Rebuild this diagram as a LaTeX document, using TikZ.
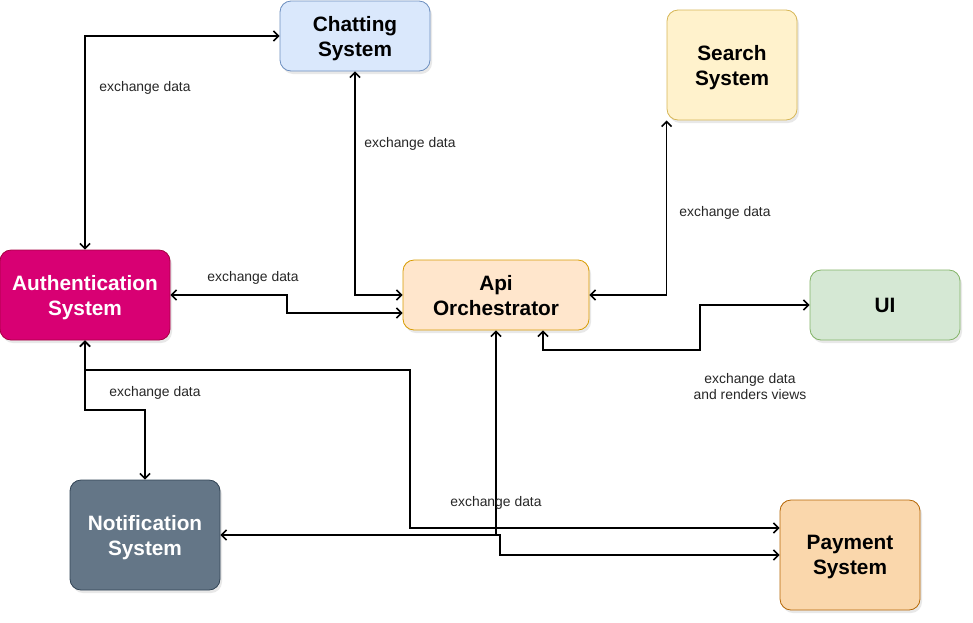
\documentclass[tikz,border=0pt]{standalone}
\usepackage{fontspec}
\setmainfont{Liberation Sans}
\usetikzlibrary{arrows.meta,positioning,shadows}

\definecolor{chatfill}{HTML}{DAE8FC}
\definecolor{chatline}{HTML}{6C8EBF}
\definecolor{searchfill}{HTML}{FFF2CC}
\definecolor{searchline}{HTML}{D6B656}
\definecolor{authfill}{HTML}{D80073}
\definecolor{authline}{HTML}{A50040}
\definecolor{apifill}{HTML}{FFE6CC}
\definecolor{apiline}{HTML}{D79B00}
\definecolor{uifill}{HTML}{D5E8D4}
\definecolor{uiline}{HTML}{82B366}
\definecolor{notiffill}{HTML}{647687}
\definecolor{notifline}{HTML}{314354}
\definecolor{payfill}{HTML}{FAD7AC}
\definecolor{payline}{HTML}{B46504}

\begin{document}
\begin{tikzpicture}[x=1pt,y=-1pt,
  >={Straight Barb[length=5pt,width=10pt]},
  box/.style={rounded corners=11pt, draw, line width=0.8pt, align=center, inner sep=0pt,
    font=\fontsize{20.8}{25}\selectfont\bfseries, text depth=0pt,
    drop shadow={shadow xshift=2pt,shadow yshift=-3pt,opacity=0.18}},
  link/.style={line width=1.6pt, <->},
  tag/.style={font=\fontsize{13.9}{16}\selectfont, align=center, text=black!85, text depth=0pt}]
\useasboundingbox (0,0) rectangle (973,622);

\node[box, fill=chatfill, draw=chatline, minimum width=150pt, minimum height=70pt] (chat) at (355,36) {Chatting\\System};
\node[box, fill=searchfill, draw=searchline, minimum width=130pt, minimum height=110pt] (search) at (732,65) {Search\\System};
\node[box, fill=authfill, draw=authline, text=white, minimum width=170pt, minimum height=90pt] (auth) at (85,295) {Authentication\\System};
\node[box, fill=apifill, draw=apiline, minimum width=186pt, minimum height=70pt] (api) at (496,295) {Api\\Orchestrator};
\node[box, fill=uifill, draw=uiline, minimum width=150pt, minimum height=70pt] (ui) at (885,305) {UI};
\node[box, fill=notiffill, draw=notifline, text=white, minimum width=150pt, minimum height=110pt] (notif) at (145,535) {Notification\\System};
\node[box, fill=payfill, draw=payline, minimum width=140pt, minimum height=110pt] (pay) at (850,555) {Payment\\System};

\coordinate (aturn) at (287,295);
\coordinate (uturn) at (700,350);
\coordinate (nturn) at (145,410);
\coordinate (pturn) at (410,370);
\coordinate (qturn) at (500,535);

\draw[link] (auth.north) |- (chat.west);
\draw[link] (chat.south) |- (api.west);
\draw[link] (api.east) -| (search.south west);
\draw[link] (auth.east) -- (aturn) |- ([yshift=-18pt]api.west);
\draw[link] ([xshift=47pt]api.south) |- (uturn) |- (ui.west);
\draw[link] (auth.south) |- (nturn) -- (notif.north);
\draw[link] (auth.south) |- (pturn) |- ([yshift=27pt]pay.west);
\draw[link] (notif.east) -- (qturn) |- (pay.west);
\draw[line width=1.6pt, <-] (api.south) -- (api.south |- notif.east);

\node[tag] (lchat) at (145,86) {exchange data};
\node[tag] (lchatapi) at (410,142) {exchange data};
\node[tag] (lsearch) at (725,211) {exchange data};
\node[tag] (lauthapi) at (253,276) {exchange data};
\node[tag] (lnotif) at (155,391) {exchange data};
\node[tag] (lui) at (750,386) {exchange data\\and renders views};
\node[tag] (lpay) at (496,501) {exchange data};
\end{tikzpicture}
\end{document}
